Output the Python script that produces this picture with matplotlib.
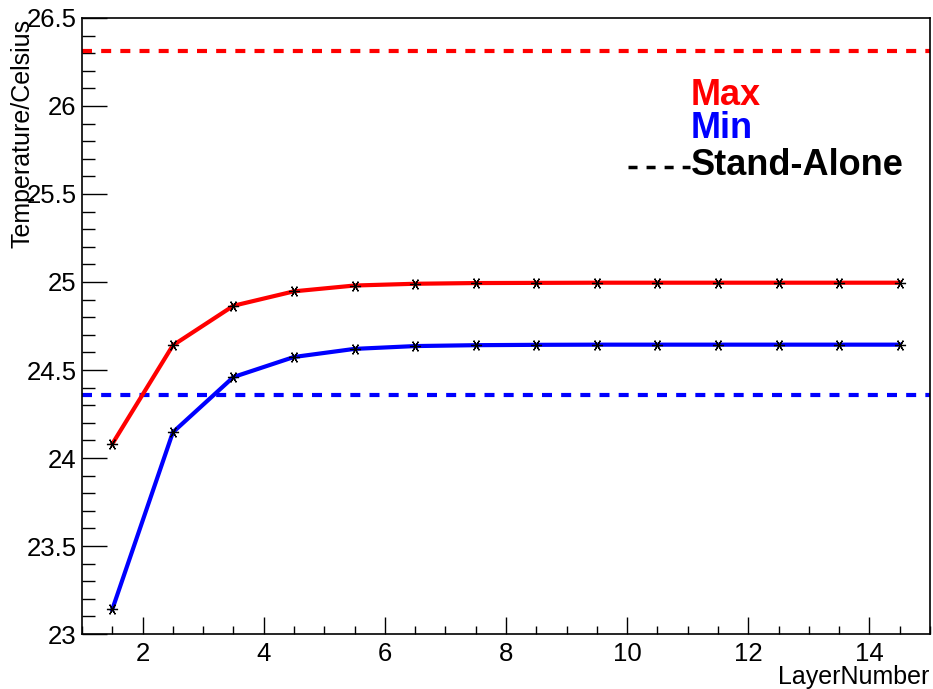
import matplotlib
matplotlib.use("Agg")
import matplotlib.pyplot as plt
from matplotlib.lines import Line2D
from matplotlib.ticker import MultipleLocator

plt.rcParams['font.family'] = ['Liberation Sans', 'DejaVu Sans']

# data
layers = [1.5, 2.5, 3.5, 4.5, 5.5, 6.5, 7.5, 8.5, 9.5, 10.5, 11.5, 12.5, 13.5, 14.5]
t_max = [24.08, 24.64, 24.865, 24.947, 24.98, 24.99, 24.994, 24.995, 24.996, 24.996,
         24.996, 24.996, 24.996, 24.996]
t_min = [23.14, 24.146, 24.46, 24.574, 24.62, 24.636, 24.641, 24.643, 24.644, 24.644,
         24.644, 24.644, 24.644, 24.644]
standalone_max = 26.314
standalone_min = 24.356

fig = plt.figure(figsize=(9.33, 6.89), dpi=100)
ax = fig.add_axes([0.0879, 0.0798, 0.9089, 0.8941])

star = (6, 2, 90)
ax.plot(layers, t_max, color='red', lw=3, marker=star, ms=8, mec='black', mew=0.9, zorder=3)
ax.plot(layers, t_min, color='blue', lw=3, marker=star, ms=8, mec='black', mew=0.9, zorder=3)
ax.axhline(standalone_max, color='red', lw=3, dashes=(2.4, 2.2))
ax.axhline(standalone_min, color='blue', lw=3, dashes=(2.4, 2.2))

ax.set_xlim(1, 15)
ax.set_ylim(23, 26.5)
ax.xaxis.set_major_locator(MultipleLocator(2))
ax.xaxis.set_minor_locator(MultipleLocator(0.5))
ax.yaxis.set_major_locator(MultipleLocator(0.5))
ax.yaxis.set_minor_locator(MultipleLocator(0.1))
ax.yaxis.set_major_formatter(plt.FuncFormatter(lambda v, p: f"{v:g}"))

ax.tick_params(which='both', direction='in', top=False, right=False, labelsize=18.5, color='black')
ax.tick_params(axis='y', which='major', length=18, width=1, pad=4)
ax.tick_params(axis='y', which='minor', length=9.5, width=1)
ax.tick_params(axis='x', which='major', length=12, width=1, pad=6)
ax.tick_params(axis='x', which='minor', length=6, width=1)
for s in ax.spines.values():
    s.set_linewidth(1.2)

fig.text(0.996, 0.0175, 'LayerNumber', ha='right', va='center', fontsize=18)
fig.text(0.024, 0.972, 'Temperature/Celsius', ha='center', va='top', rotation=90, fontsize=18)

# legend drawn by hand: coloured text, dashed sample only for Stand-Alone
fig.text(0.7406, 0.8476, 'Max', color='red', fontsize=26, fontweight='bold', va='baseline')
fig.text(0.7406, 0.7997, 'Min', color='blue', fontsize=26, fontweight='bold', va='baseline')
fig.text(0.7406, 0.746, 'Stand-Alone', color='black', fontsize=26, fontweight='bold', va='baseline')
fig.add_artist(Line2D([0.673, 0.7395], [0.7576, 0.7576], transform=fig.transFigure,
                      color='black', lw=2.5, dashes=(2.6, 2.6)))

fig.savefig('out.png', dpi=100)
